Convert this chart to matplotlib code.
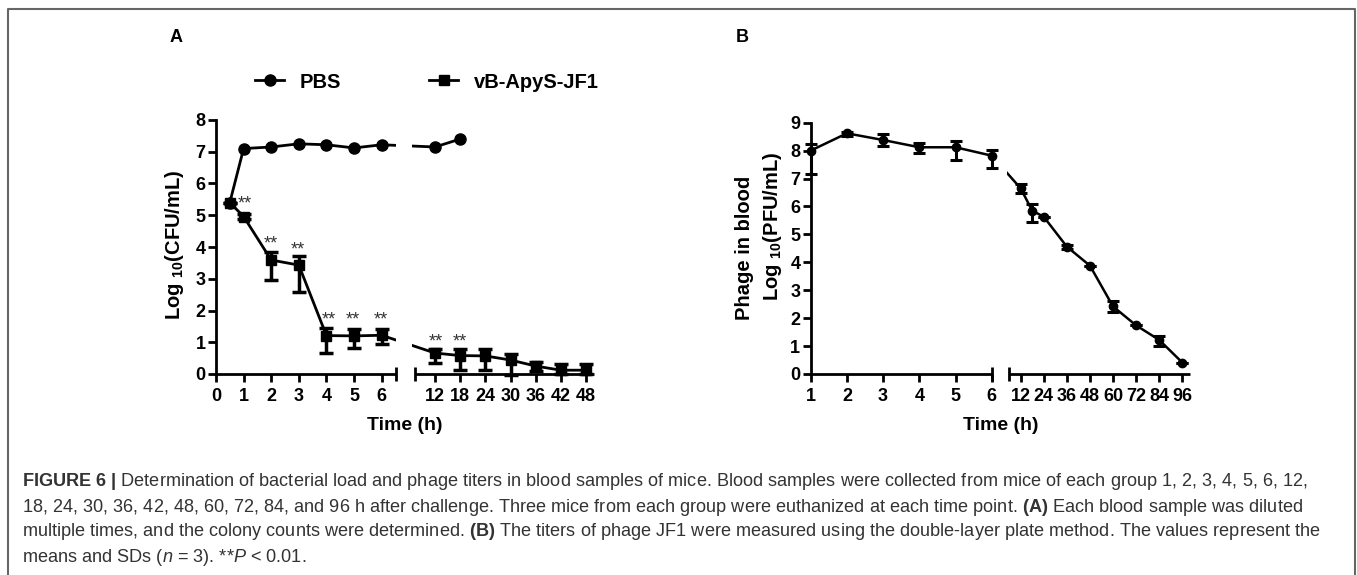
import numpy as np
import matplotlib
matplotlib.use("Agg")
import matplotlib.pyplot as plt
from matplotlib.lines import Line2D

plt.rcParams['font.family'] = ['Liberation Sans', 'DejaVu Sans']
plt.rcParams['mathtext.fontset'] = 'custom'
plt.rcParams['mathtext.rm'] = 'Liberation Sans:bold'
plt.rcParams['mathtext.bf'] = 'Liberation Sans:bold'
plt.rcParams['mathtext.it'] = 'Liberation Sans:italic'

# ---------------- data: panel A ----------------
a_time = [0.5, 1, 2, 3, 4, 5, 6, 12, 18, 24, 30, 36, 42, 48]
pbs_time = [0.5, 1, 2, 3, 4, 5, 6, 12, 18]
pbs_vals = [5.4, 7.1, 7.15, 7.25, 7.22, 7.12, 7.22, 7.15, 7.4]
jf1_vals = [5.4, 4.96, 3.59, 3.43, 1.21, 1.2, 1.22, 0.66, 0.58, 0.57, 0.44, 0.25, 0.12, 0.12]
jf1_err_lo = [0.0, 0.08, 0.63, 0.84, 0.56, 0.39, 0.28, 0.30, 0.45, 0.44, 0.46, 0.14, 0.12, 0.12]
jf1_err_hi = [0.0, 0.08, 0.26, 0.30, 0.23, 0.21, 0.20, 0.14, 0.20, 0.21, 0.18, 0.14, 0.18, 0.18]
star_time = [1.05, 2, 2.96, 4.1, 4.97, 5.98, 12.2, 18]
star_y = [5.42, 4.17, 4.0, 1.77, 1.77, 1.77, 1.09, 1.09]
a_ticks = [0, 1, 2, 3, 4, 5, 6, 12, 18, 24, 30, 36, 42, 48]
a_yticks = [0, 1, 2, 3, 4, 5, 6, 7, 8]

# ---------------- data: panel B ----------------
b_time = [1, 2, 3, 4, 5, 6, 12, 18, 24, 36, 48, 60, 72, 84, 96]
b_vals = [8.0, 8.62, 8.38, 8.12, 8.12, 7.82, 6.65, 5.85, 5.63, 4.56, 3.88, 2.42, 1.74, 1.22, 0.41]
b_err_lo = [0.82, 0.08, 0.22, 0.22, 0.46, 0.43, 0.16, 0.40, 0.0, 0.07, 0.0, 0.2, 0.0, 0.2, 0.0]
b_err_hi = [0.23, 0.06, 0.20, 0.16, 0.23, 0.22, 0.14, 0.25, 0.0, 0.07, 0.0, 0.2, 0.0, 0.15, 0.0]
b_ticks = [1, 2, 3, 4, 5, 6, 12, 24, 36, 48, 60, 72, 84, 96]
b_yticks = [0, 1, 2, 3, 4, 5, 6, 7, 8, 9]

legend_labels = ['PBS', 'vB-ApyS-JF1']

W, H = 1357, 575
fig = plt.figure(figsize=(W / 100, H / 100), dpi=100)


def make_scale(kx, ku):
    kx = np.asarray(kx, float)
    ku = np.asarray(ku, float)
    s0 = (ku[1] - ku[0]) / (kx[1] - kx[0])
    s1 = (ku[-1] - ku[-2]) / (kx[-1] - kx[-2])

    def fwd(x):
        x = np.asarray(x, float)
        y = np.interp(x, kx, ku)
        y = np.where(x < kx[0], ku[0] + (x - kx[0]) * s0, y)
        y = np.where(x > kx[-1], ku[-1] + (x - kx[-1]) * s1, y)
        return y

    def inv(u):
        u = np.asarray(u, float)
        y = np.interp(u, ku, kx)
        y = np.where(u < ku[0], kx[0] + (u - ku[0]) / s0, y)
        y = np.where(u > ku[-1], kx[-1] + (u - ku[-1]) / s1, y)
        return y
    return fwd, inv


def px_axes(l, t, r, b):
    return fig.add_axes([l / W, 1 - b / H, (r - l) / W, (b - t) / H])


def style_axes(ax, yticks):
    for s in ['top', 'right', 'bottom']:
        ax.spines[s].set_visible(False)
    ax.spines['left'].set_linewidth(2)
    ax.tick_params(axis='both', direction='out', length=6, width=2,
                   labelsize=13, pad=1.5)
    ax.tick_params(axis='x', pad=4)
    ax.set_yticks(yticks)
    for lab in ax.get_xticklabels() + ax.get_yticklabels():
        lab.set_fontweight('bold')


def broken_axis(ax, seg1, seg2):
    tr = ax.get_xaxis_transform()
    for seg in (seg1, seg2):
        ax.plot(seg, [0, 0], color='k', lw=2, transform=tr, clip_on=False,
                zorder=8, solid_capstyle='butt')
    ax.plot([seg1[1], seg2[0]], [0, 0], ls='none', marker='|', ms=10, mew=2,
            color='k', transform=tr, clip_on=False, zorder=8)


# ---------------- panel A ----------------
axA = px_axes(216, 120, 594, 374)
kxA = [0, 6.52, 7.23, 49.9]
kuA = [0, 180, 199, 378]
axA.set_xscale('function', functions=make_scale(kxA, kuA))
axA.set_xlim(kxA[0], kxA[-1])
axA.set_ylim(0, 8)
style_axes(axA, a_yticks)
axA.set_xticks(a_ticks)
axA.set_xticklabels([str(t) for t in a_ticks], fontweight='bold')
broken_axis(axA, (kxA[0], kxA[1]), (kxA[2], kxA[3]))

axA.plot(pbs_time, pbs_vals, color='k', lw=2, zorder=2)
axA.plot(a_time, jf1_vals, color='k', lw=2, zorder=2)
axA.axvspan(6.53, 7.1, color='white', lw=0, zorder=4)
axA.errorbar(a_time, jf1_vals, yerr=[jf1_err_lo, jf1_err_hi], fmt='none',
             ecolor='k', elinewidth=2.5, capsize=5, capthick=2.5, zorder=6,
             clip_on=False)
axA.plot(a_time, jf1_vals, ls='none', marker='s', ms=6.5, color='k',
         zorder=7, clip_on=False)
axA.plot(pbs_time, pbs_vals, ls='none', marker='o', ms=8, color='k',
         zorder=7, clip_on=False)
for xs, ys in zip(star_time, star_y):
    axA.text(xs, ys - 0.08, '**', ha='center', va='center', fontsize=13,
             color='#333333', zorder=9)

axA.set_xlabel('Time (h)', fontsize=14, fontweight='bold', labelpad=9)
fig.text(175 / W, 1 - 245 / H, r'Log $_{10}$(CFU/mL)', rotation=90,
         ha='center', va='center', fontsize=14.5, fontweight='bold')

handles = [Line2D([], [], color='k', lw=2, marker='o', ms=8),
           Line2D([], [], color='k', lw=2, marker='s', ms=6.5)]
fig.legend(handles, legend_labels, loc='center left',
           bbox_to_anchor=(255 / W, 1 - 82 / H), ncol=2, frameon=False,
           prop={'weight': 'bold', 'size': 14.5}, handlelength=1.45,
           handletextpad=0.75, columnspacing=4.4, borderpad=0,
           borderaxespad=0, numpoints=1)

# ---------------- panel B ----------------
axB = px_axes(810.7, 122.7, 1190, 374)
kxB = [1, 6, 6.1, 100]
kuB = [0, 181, 198.6, 379.3]
axB.set_xscale('function', functions=make_scale(kxB, kuB))
axB.set_xlim(kxB[0], kxB[-1])
axB.set_ylim(0, 9)
style_axes(axB, b_yticks)
axB.set_xticks(b_ticks)
axB.set_xticklabels([str(t) for t in b_ticks], fontweight='bold')
broken_axis(axB, (kxB[0], kxB[1]), (kxB[2], kxB[3]))

axB.plot(b_time, b_vals, color='k', lw=1.8, zorder=2)
axB.axvspan(6.0, 6.085, color='white', lw=0, zorder=4)
axB.errorbar(b_time, b_vals, yerr=[b_err_lo, b_err_hi], fmt='none',
             ecolor='k', elinewidth=2.2, capsize=4, capthick=2.2, zorder=6,
             clip_on=False)
axB.plot(b_time, b_vals, ls='none', marker='o', ms=6, color='k',
         zorder=7, clip_on=False)
axB.set_xlabel('Time (h)', fontsize=14, fontweight='bold', labelpad=9)
fig.text(745 / W, 1 - 248 / H, 'Phage in blood', rotation=90,
         ha='center', va='center', fontsize=14.5, fontweight='bold')
fig.text(772 / W, 1 - 226 / H, r'Log $_{10}$(PFU/mL)', rotation=90,
         ha='center', va='center', fontsize=14.5, fontweight='bold')

# panel letters
fig.text(176 / W, 1 - 38 / H, 'A', ha='center', va='center', fontsize=13,
         fontweight='bold')
fig.text(742 / W, 1 - 38 / H, 'B', ha='center', va='center', fontsize=13,
         fontweight='bold')

# border
fig.add_artist(Line2D([8 / W, 8 / W, 1355 / W, 1355 / W],
                      [0, 1 - 8.5 / H, 1 - 8.5 / H, 0],
                      transform=fig.transFigure, color='#666666', lw=1.5))

# caption
cap_lines = [
    r'$\mathbf{FIGURE\ 6\ |}$ Determination of bacterial load and phage titers in blood samples of mice. Blood samples were collected from mice of each group 1, 2, 3, 4, 5, 6, 12,',
    r'18, 24, 30, 36, 42, 48, 60, 72, 84, and 96 h after challenge. Three mice from each group were euthanized at each time point. $\mathbf{(A)}$ Each blood sample was diluted',
    r'multiple times, and the colony counts were determined. $\mathbf{(B)}$ The titers of phage JF1 were measured using the double-layer plate method. The values represent the',
    r'means and SDs ($\mathit{n}$ = 3). **$\mathit{P}$ < 0.01.',
]
cap_y = [482, 507, 532, 557]
for s, yy in zip(cap_lines, cap_y):
    fig.text(22 / W, 1 - yy / H, s, ha='left', va='center', fontsize=13.1,
             color='#333333')

fig.savefig('out.png', dpi=100)
